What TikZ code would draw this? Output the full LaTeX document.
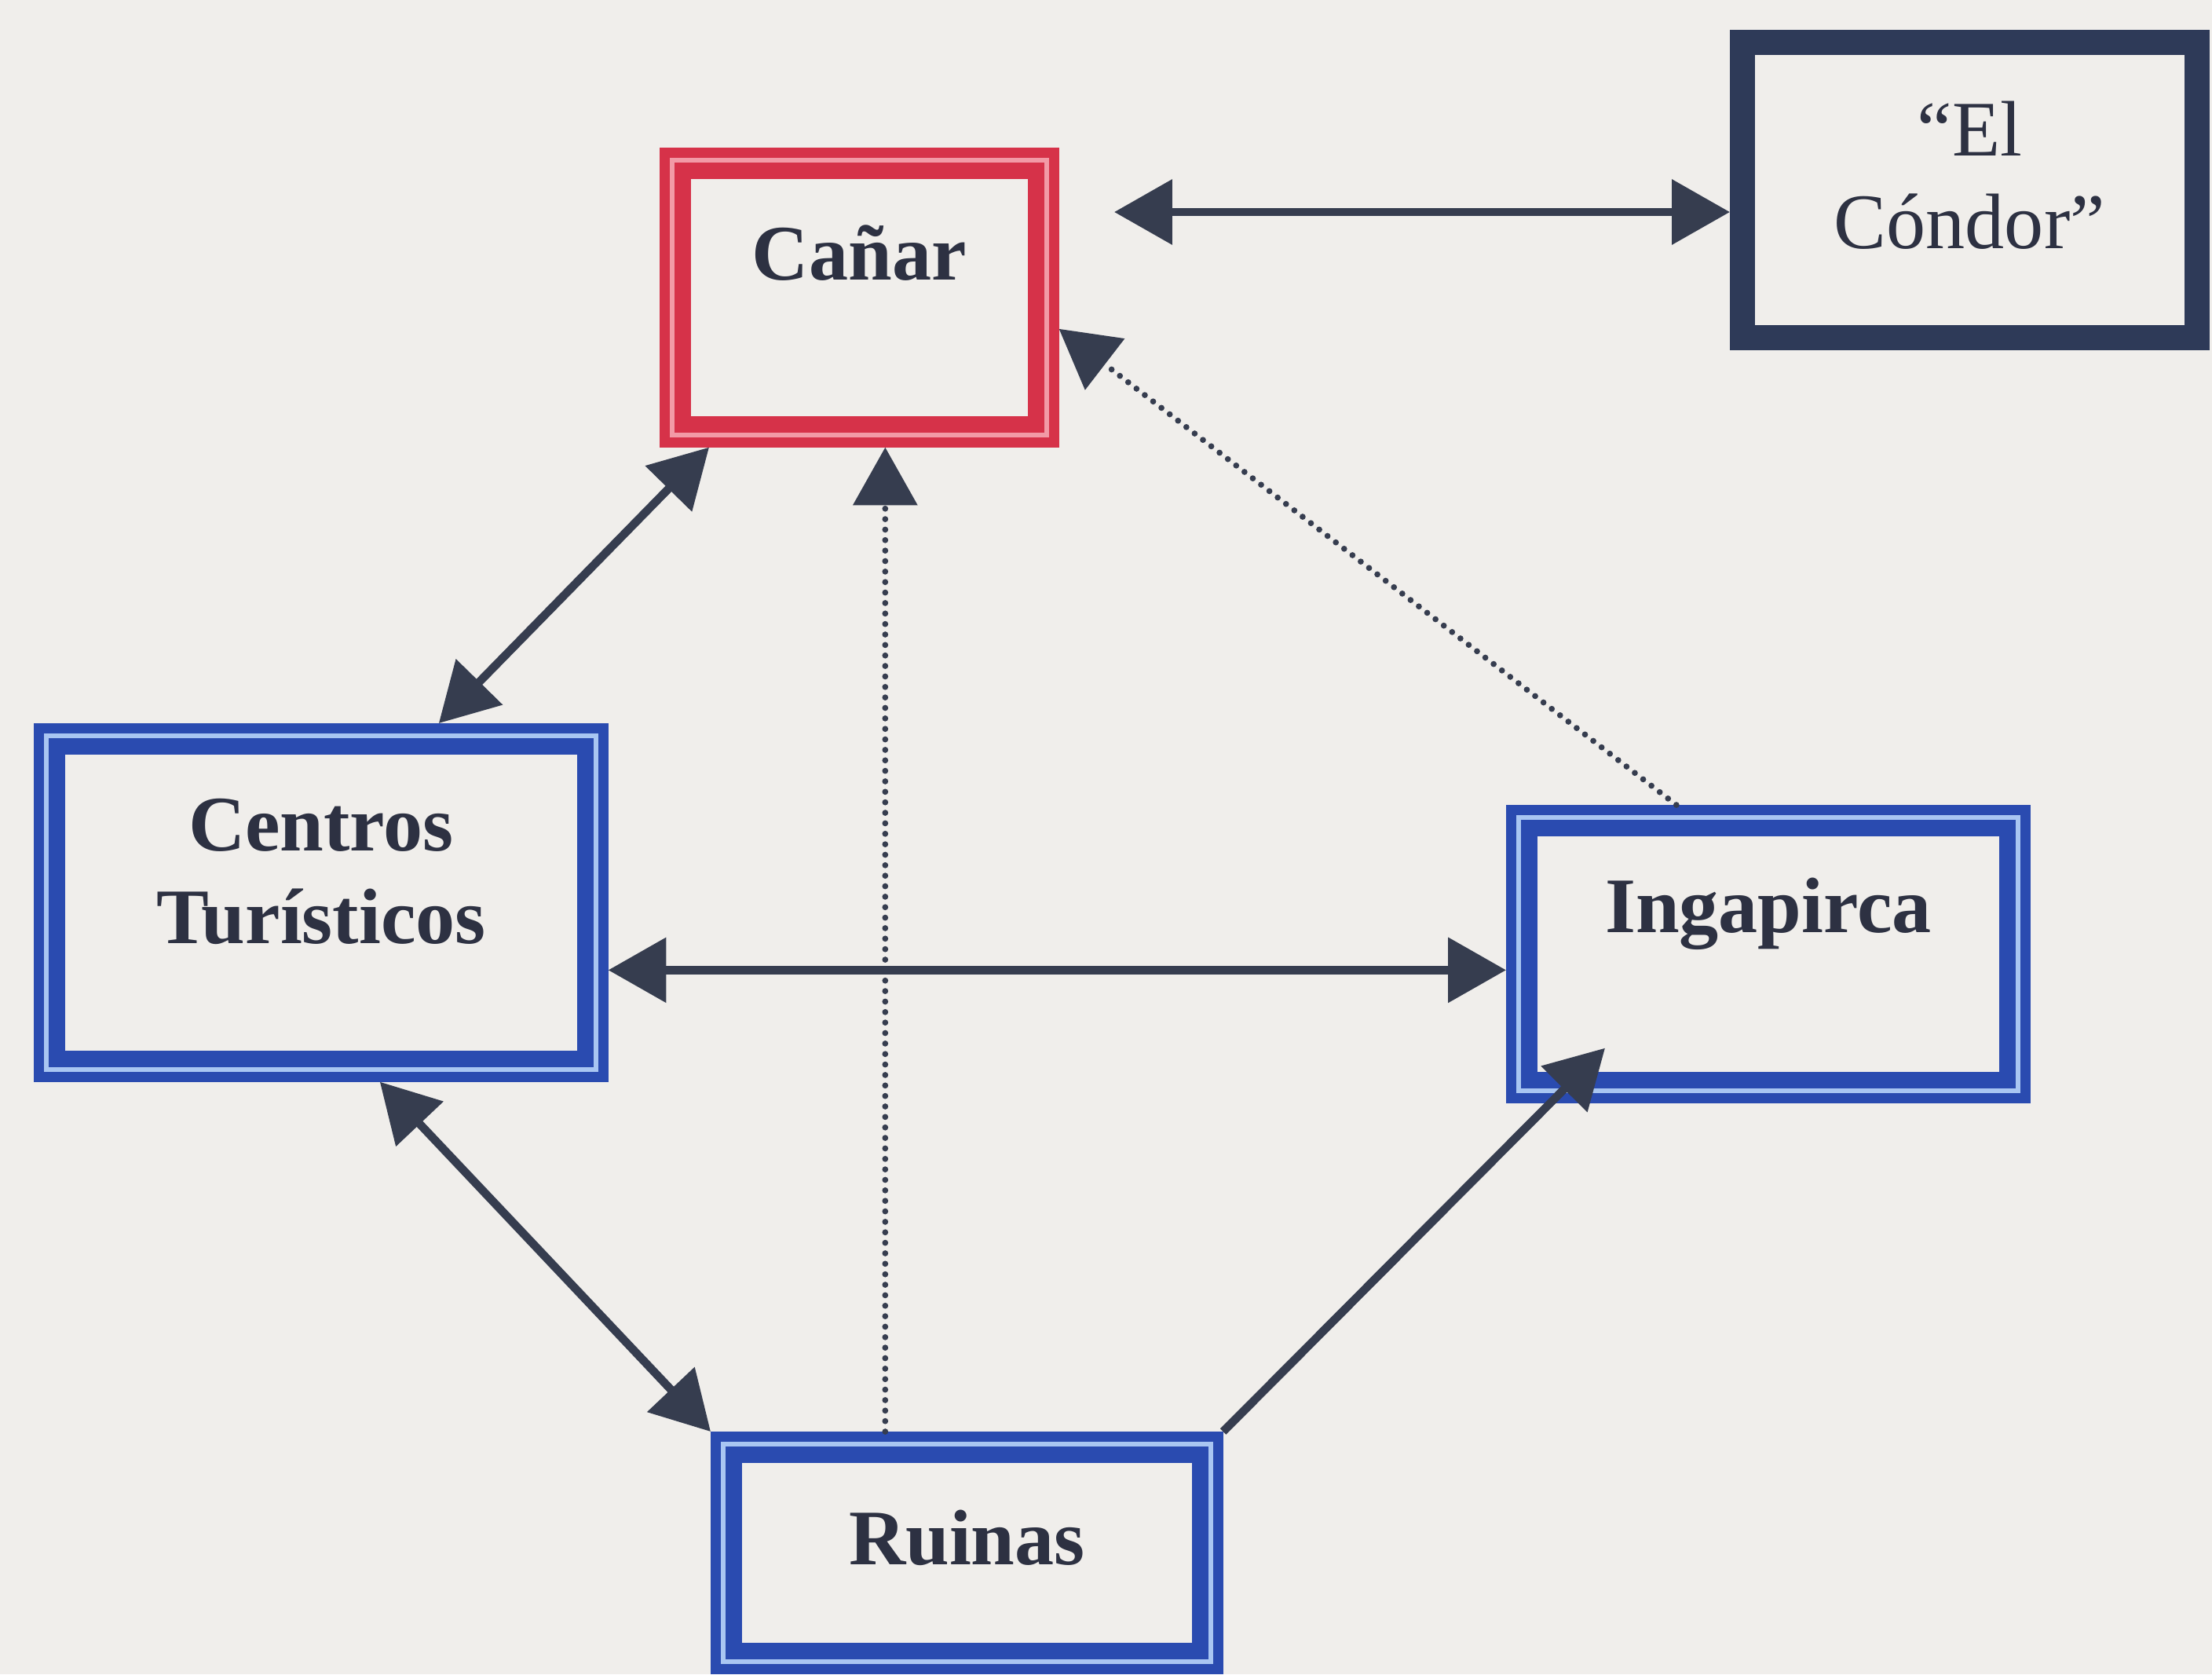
\documentclass[tikz,border=0pt]{standalone}
\usepackage{fontspec}
\setmainfont{Liberation Serif}
\usetikzlibrary{arrows.meta}

\definecolor{paper}{HTML}{F0EEEB}
\definecolor{ink}{HTML}{2D3142}
\definecolor{wire}{HTML}{363D4F}
\definecolor{redline}{HTML}{D63249}
\definecolor{redgap}{HTML}{F29AA6}
\definecolor{blueline}{HTML}{2A4BB0}
\definecolor{bluegap}{HTML}{A9C6F2}
\definecolor{navyline}{HTML}{2E3A58}

\begin{document}
\begin{tikzpicture}[
      >={Triangle[length=21pt,width=23pt]},
      twin/.style 2 args={rectangle, draw=#1, line width=3.6pt, inner sep=0pt, align=center, text=ink,
        font=\fontsize{28.5}{33.5}\selectfont\bfseries,
        path picture={
          \draw[#2, line width=2pt] ([shift={(2.8pt,2.8pt)}]path picture bounding box.south west) rectangle ([shift={(-2.8pt,-2.8pt)}]path picture bounding box.north east);
          \draw[#1, line width=6pt] ([shift={(6.6pt,6.6pt)}]path picture bounding box.south west) rectangle ([shift={(-6.6pt,-6.6pt)}]path picture bounding box.north east);}},
      solo/.style={rectangle, draw=navyline, line width=9pt, inner sep=0pt, align=center, text=ink,
        font=\fontsize{28.5}{33.5}\selectfont},
      link/.style={draw=wire, line width=3pt},
      hint/.style={draw=wire, line width=2.2pt, line cap=round, dash pattern=on 0pt off 3.8pt}
    ]
      \path[use as bounding box, fill=paper] (0,0) rectangle (28.17,-21.32);

      % Cañar and "El Cóndor"
      \node[twin={redline}{redgap}, anchor=north west, text width=4.96cm, text height=1.62cm, text depth=2.07cm] (canar) at (8.40,-1.88) {Cañar};
      \node[solo, anchor=north west, text width=5.79cm, text height=1.45cm, text depth=2.31cm] (condor) at (22.03,-0.38) {“El\\Cóndor”};

      % middle row
      \node[twin={blueline}{bluegap}, anchor=north west, text width=7.19cm, text height=1.56cm, text depth=2.88cm] (centros) at (0.43,-9.21) {Centros\\Turísticos};
      \node[twin={blueline}{bluegap}, anchor=north west, text width=6.55cm, text height=1.56cm, text depth=2.11cm] (ingapirca) at (19.18,-10.25) {Ingapirca};

      % bottom
      \node[twin={blueline}{bluegap}, anchor=north west, text width=6.40cm, text height=1.63cm, text depth=1.33cm] (ruinas) at (9.05,-18.23) {Ruinas};

      \coordinate (cc) at (14.19,-2.70);
      \draw[link, <->] (cc) -- (cc -| condor.west);
      \draw[link, <->] ([xshift=0.63cm]canar.south west) -- ([xshift=1.5cm]centros.north);
      \draw[link, <->] ([yshift=-0.86cm]centros.east) -- ([yshift=-0.86cm]centros.east -| ingapirca.west);
      \draw[link, <->] ([xshift=0.75cm]centros.south) -- (ruinas.north west);
      \draw[link, ->] (ruinas.north east) -- ([shift={(1.26cm,0.7cm)}]ingapirca.south west);

      % dotted links
      \draw[hint, ->] ([xshift=-1.04cm]ruinas.north) -- ([xshift=-1.04cm]ruinas.north |- canar.south);
      \draw[hint, ->] ([xshift=-1.17cm]ingapirca.north) -- ([yshift=-0.40cm]canar.east);
    \end{tikzpicture}
\end{document}
